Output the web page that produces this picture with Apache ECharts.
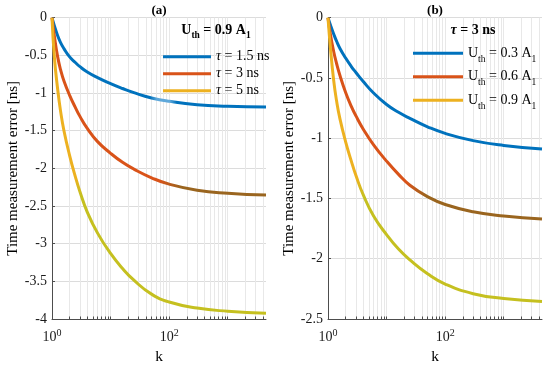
<!DOCTYPE html>
<html><head><meta charset="utf-8">
<script src="https://cdn.jsdelivr.net/npm/echarts@6/dist/echarts.min.js"></script>
<style>html,body{margin:0;padding:0;background:#fff}#c{width:550px;height:365px}</style>
</head><body><div id="c"></div>
<script>
// ---- data ----
const kValues = [1, 1.1, 1.25, 1.4, 1.6, 2, 2.5, 3, 4, 6, 10, 16, 25, 50, 100, 300, 1000, 4500];
// panel (a): Uth = 0.9 A1
const errTau15 = [0, -0.11, -0.24, -0.33, -0.41, -0.52, -0.595, -0.65, -0.72, -0.795, -0.875, -0.94, -0.995, -1.065, -1.11, -1.155, -1.175, -1.187];
const errTau3 = [0, -0.25, -0.52, -0.69, -0.84, -1.03, -1.19, -1.31, -1.47, -1.645, -1.80, -1.92, -2.01, -2.125, -2.21, -2.29, -2.33, -2.355];
const errTau5 = [0, -0.53, -0.95, -1.24, -1.50, -1.83, -2.11, -2.31, -2.58, -2.86, -3.13, -3.33, -3.485, -3.67, -3.775, -3.855, -3.897, -3.925];
// panel (b): tau = 3 ns
const errU03 = [0, -0.06, -0.135, -0.195, -0.255, -0.335, -0.405, -0.455, -0.53, -0.625, -0.72, -0.785, -0.835, -0.905, -0.96, -1.02, -1.06, -1.09];
const errU06 = [0, -0.14, -0.28, -0.38, -0.48, -0.62, -0.735, -0.815, -0.925, -1.055, -1.19, -1.30, -1.39, -1.485, -1.55, -1.61, -1.645, -1.67];
const errU09 = errTau3; // same case: tau = 3 ns, Uth = 0.9 A1

const tauLabels = ['1.5', '3', '5'];
const uthLabels = ['0.3', '0.6', '0.9'];
const xLabelValues = [1, 100];
const xGridValues = [1,2,3,4,5,6,7,8,9,10,20,30,40,50,60,70,80,90,100,200,300,400,500,600,700,800,900,1000,2000,3000,4000];
const yRangeA = [-4, 0];
const yRangeB = [-2.5, 0];
const kRange = [1, 4500];

const FONT = 'Liberation Serif';
const C_BLUE = '#0072BD', C_RED = '#D95319', C_YEL = '#EDB120';

const zip = (ys) => kValues.map((k, i) => [k, ys[i]]);
const grad = (vertical, stops) => ({type: 'linear', x: 0, y: 0, x2: vertical ? 0 : 1, y2: vertical ? 1 : 0,
  colorStops: stops.map(s => ({offset: s[0], color: s[1]}))});

const tauNames = tauLabels.map(t => 'τ = ' + t + ' ns');
const uthNames = uthLabels.map(u => 'U_th = ' + u + ' A_1');

function xAxis(gi) {
  return {
    type: 'log', logBase: 10, gridIndex: gi, min: kRange[0], max: kRange[1],
    name: 'k', nameLocation: 'middle', nameGap: 26,
    nameTextStyle: {fontFamily: FONT, fontSize: 15.5, color: '#000'},
    axisLine: {show: true, onZero: false, lineStyle: {color: '#4d4d4d', width: 1}},
    axisTick: {show: true, inside: true, length: 2.5, customValues: xGridValues, lineStyle: {color: '#4d4d4d'}},
    axisLabel: {customValues: xLabelValues, margin: 9,
      formatter: v => '{b|10}{s|' + Math.round(Math.log10(v)) + '}',
      rich: {b: {fontFamily: FONT, fontSize: 14, color: '#1a1a1a', lineHeight: 18},
             s: {fontFamily: FONT, fontSize: 10, color: '#1a1a1a', verticalAlign: 'top'}}},
    splitLine: {show: true, lineStyle: {color: '#e8e8e8', width: 1}},
    minorTick: {show: false}
  };
}
function yAxis(gi, range, gap) {
  return {
    type: 'value', gridIndex: gi, min: range[0], max: range[1], interval: 0.5,
    name: 'Time measurement error [ns]', nameLocation: 'middle', nameGap: gap,
    nameTextStyle: {fontFamily: FONT, fontSize: 15, color: '#000'},
    axisLine: {show: true, onZero: false, lineStyle: {color: '#4d4d4d', width: 1}},
    axisTick: {show: true, inside: true, length: 3, lineStyle: {color: '#4d4d4d'}},
    axisLabel: {fontFamily: FONT, fontSize: 14, color: '#1a1a1a', margin: 5},
    splitLine: {show: true, lineStyle: {color: '#dcdcdc', width: 1}}
  };
}
function line(name, gi, ys, baseColor, lineColor) {
  return {
    name, type: 'line', xAxisIndex: gi, yAxisIndex: gi, data: zip(ys), smooth: 0.5,
    showSymbol: false, symbol: 'none', itemStyle: {color: baseColor},
    lineStyle: {width: 3, color: lineColor}, z: 3, silent: true
  };
}

const legendText = {
  fontFamily: FONT, fontSize: 14, color: '#000', lineHeight: 14,
  rich: {i: {fontFamily: FONT, fontSize: 14, fontStyle: 'italic', color: '#000', lineHeight: 14},
         t: {fontFamily: FONT, fontSize: 14, color: '#000', lineHeight: 22},
         s: {fontFamily: FONT, fontSize: 9.5, color: '#000', verticalAlign: 'bottom'}}
};
const headRich = {
  t: {fontFamily: FONT, fontWeight: 'bold', fontSize: 14, lineHeight: 22, color: '#000'},
  s: {fontFamily: FONT, fontWeight: 'bold', fontSize: 9.5, verticalAlign: 'bottom', color: '#000'},
  i: {fontFamily: FONT, fontWeight: 'bold', fontStyle: 'italic', fontSize: 14, lineHeight: 16, color: '#000'},
  u: {fontFamily: FONT, fontWeight: 'bold', fontSize: 14, lineHeight: 16, color: '#000'}
};

const option = {
  animation: false,
  backgroundColor: '#fff',
  title: [
    {text: '(a)', left: 159, top: 4, textAlign: 'center', padding: 0,
     textStyle: {fontFamily: FONT, fontWeight: 'bold', fontSize: 13, color: '#000'}},
    {text: '(b)', left: 435, top: 4, textAlign: 'center', padding: 0,
     textStyle: {fontFamily: FONT, fontWeight: 'bold', fontSize: 13, color: '#000'}},
    {text: '{t|U}{s|th}{t| = 0.9 A}{s|1}', left: 216, top: 19, textAlign: 'center', padding: 0,
     textStyle: {rich: headRich}},
    {text: '{i|τ}{u| = 3 ns}', left: 473, top: 22, textAlign: 'center', padding: 0,
     textStyle: {rich: headRich}}
  ],
  grid: [
    {left: 52, top: 17.7, width: 214, height: 301.3, containLabel: false, outerBoundsMode: 'none'},
    {left: 328, top: 17.7, width: 214, height: 301.3, containLabel: false, outerBoundsMode: 'none'}
  ],
  xAxis: [xAxis(0), xAxis(1)],
  yAxis: [yAxis(0, yRangeA, 26), yAxis(1, yRangeB, 29)],
  legend: [
    {data: tauNames, orient: 'vertical', left: 163, top: 49.7, padding: 0, itemWidth: 48, itemHeight: 3, itemGap: 3,
     icon: 'rect', textStyle: legendText, formatter: n => n.replace('τ', '{i|τ}'), selectedMode: false},
    {data: uthNames, orient: 'vertical', left: 413, top: 42.3, padding: 0, itemWidth: 50, itemHeight: 3, itemGap: 1.5,
     icon: 'rect', textStyle: legendText, selectedMode: false,
     formatter: n => { const u = n.split(' ')[2]; return '{t|U}{s|th}{t| = ' + u + ' A}{s|1}'; }}
  ],
  series: [
    line(tauNames[0], 0, errTau15, C_BLUE, grad(false, [[0, C_BLUE], [0.46, C_BLUE], [0.49, '#5fa8da'], [0.55, '#5fa8da'], [0.58, C_BLUE], [1, C_BLUE]])),
    line(tauNames[1], 0, errTau3, C_RED, grad(false, [[0, C_RED], [0.5, C_RED], [0.6, '#9A651F'], [1, '#9A651F']])),
    line(tauNames[2], 0, errTau5, C_YEL, grad(true, [[0, C_YEL], [0.54, C_YEL], [0.6, '#C5C020'], [1, '#C5C020']])),
    line(uthNames[0], 1, errU03, C_BLUE, C_BLUE),
    line(uthNames[1], 1, errU06, C_RED, grad(false, [[0, C_RED], [0.37, C_RED], [0.46, '#9A651F'], [1, '#9A651F']])),
    line(uthNames[2], 1, errU09, C_YEL, grad(true, [[0, C_YEL], [0.56, C_YEL], [0.63, '#C5C020'], [1, '#C5C020']]))
  ]
};
const chart = echarts.init(document.getElementById('c'), null, {renderer: 'canvas'});
chart.setOption(option);
</script></body></html>
